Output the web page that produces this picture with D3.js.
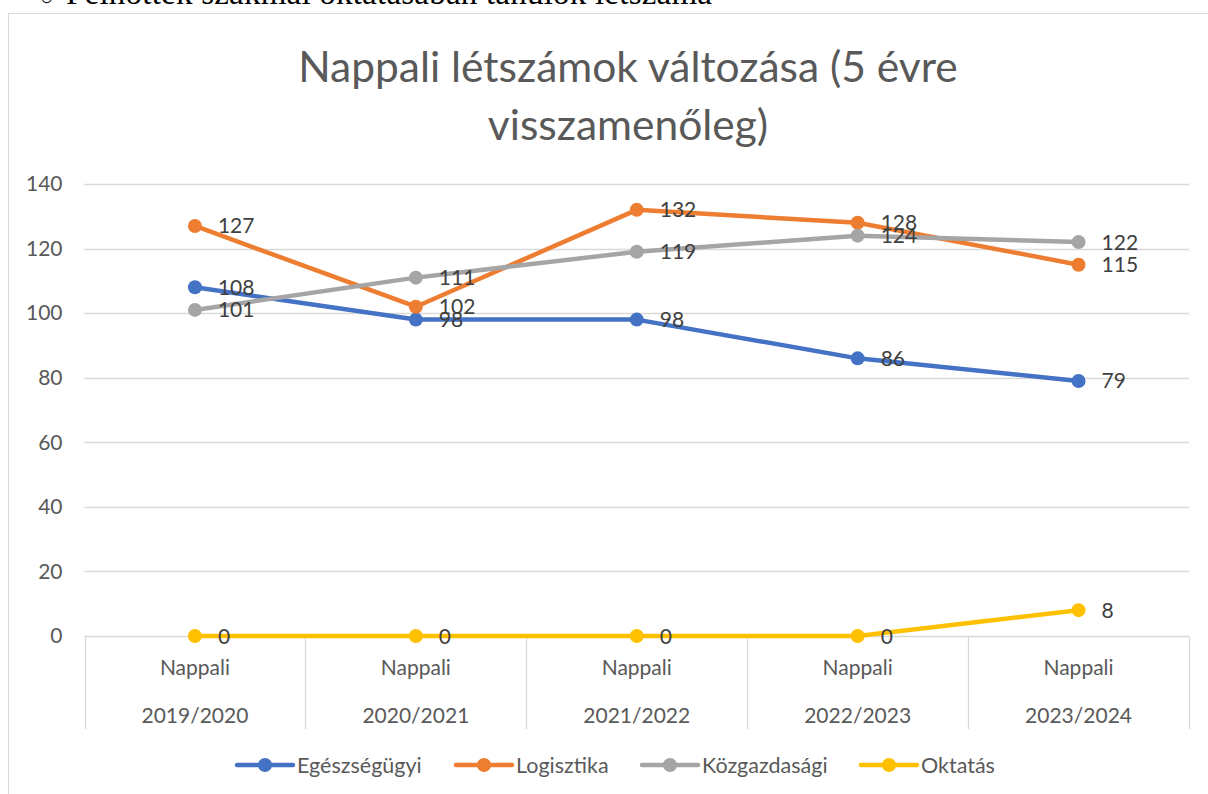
<!DOCTYPE html>
<html>
<head>
<meta charset="utf-8">
<script src="https://cdn.jsdelivr.net/npm/d3@7"></script>
<style>
  html, body { margin: 0; padding: 0; background: #fff; overflow: hidden; }
  svg { display: block; }
</style>
</head>
<body>
<div id="chart"></div>
<script>
// adatok
const years = ["2019/2020", "2020/2021", "2021/2022", "2022/2023", "2023/2024"];
const subLabel = "Nappali";
const seriesNames = ["Egészségügyi", "Logisztika", "Közgazdasági", "Oktatás"];
const egeszseg = [108, 98, 98, 86, 79];
const logisztika = [127, 102, 132, 128, 115];
const kozgazd = [101, 111, 119, 124, 122];
const oktatas = [0, 0, 0, 0, 8];
const yTicks = [0, 20, 40, 60, 80, 100, 120, 140];
const colors = ["#4472C4", "#ED7D31", "#A5A5A5", "#FFC000"];

const series = [egeszseg, logisztika, kozgazd, oktatas].map((v, i) => ({
  name: seriesNames[i], color: colors[i], values: v
}));

const W = 1208, H = 794;
const font = "Lato, 'Open Sans', sans-serif";
const svg = d3.select("#chart").append("svg")
  .attr("width", W).attr("height", H);

// levágott szöveg a lap tetején
svg.append("text")
  .attr("x", 40).attr("y", 5)
  .attr("font-family", "'Liberation Serif', serif")
  .attr("font-size", 22)
  .attr("fill", "#000")
  .text("○");
svg.append("text")
  .attr("x", 66).attr("y", 4)
  .attr("font-family", "'Liberation Serif', serif")
  .attr("font-size", 33)
  .attr("fill", "#000")
  .attr("textLength", 646)
  .text("Felnőttek szakmai oktatásában tanulók létszáma");

// diagram keret
svg.append("rect")
  .attr("x", 8.5).attr("y", 13.5)
  .attr("width", W + 20).attr("height", H)
  .attr("fill", "#fff").attr("stroke", "#d9d9d9").attr("stroke-width", 1);

// cím
const title = svg.append("text")
  .attr("text-anchor", "middle")
  .attr("font-family", font)
  .attr("font-size", 42.5)
  .attr("fill", "#595959");
title.append("tspan").attr("x", 628).attr("y", 82).text("Nappali létszámok változása (5 évre");
title.append("tspan").attr("x", 628).attr("y", 140).text("visszamenőleg)");

// skálák
const x = d3.scaleBand().domain(years).range([84.5, 1189]);
const y = d3.scaleLinear().domain([0, 140]).range([636, 184]);

// rácsvonalak
svg.append("g")
  .selectAll("line").data(yTicks.filter(d => d > 0)).join("line")
  .attr("x1", x.range()[0]).attr("x2", x.range()[1])
  .attr("y1", d => Math.round(y(d)) + 0.5).attr("y2", d => Math.round(y(d)) + 0.5)
  .attr("stroke", "#d9d9d9").attr("stroke-width", 1.3);

// y tengely
const yAxis = svg.append("g")
  .attr("transform", `translate(${x.range()[0]},0)`)
  .call(d3.axisLeft(y).tickValues(yTicks).tickSize(0).tickPadding(22));
yAxis.select(".domain").remove();
yAxis.selectAll("text")
  .attr("font-family", font).attr("font-size", 21).attr("fill", "#595959");

// x tengely: alapvonal és kategória elválasztók
const axisY = Math.round(y(0)) + 0.5;
svg.append("line")
  .attr("x1", x.range()[0]).attr("x2", x.range()[1])
  .attr("y1", axisY).attr("y2", axisY)
  .attr("stroke", "#d9d9d9").attr("stroke-width", 1.3);
const seps = years.map(d => x(d)).concat([x.range()[1]]);
svg.append("g").selectAll("line").data(seps).join("line")
  .attr("x1", d => Math.round(d) + 0.5).attr("x2", d => Math.round(d) + 0.5)
  .attr("y1", axisY).attr("y2", 729)
  .attr("stroke", "#d9d9d9").attr("stroke-width", 1.3);

const cat = svg.append("g")
  .attr("font-family", font).attr("font-size", 21).attr("fill", "#595959")
  .attr("text-anchor", "middle");
cat.selectAll(".sub").data(years).join("text")
  .attr("x", d => x(d) + x.bandwidth() / 2).attr("y", 675)
  .text(subLabel);
cat.selectAll(".yr").data(years).join("text")
  .attr("x", d => x(d) + x.bandwidth() / 2).attr("y", 723)
  .text(d => d);

// vonalak
const line = d3.line()
  .x((d, i) => x(years[i]) + x.bandwidth() / 2)
  .y(d => y(d));

const g = svg.append("g");
series.forEach(s => {
  g.append("path")
    .datum(s.values)
    .attr("fill", "none")
    .attr("stroke", s.color)
    .attr("stroke-width", 4.5)
    .attr("stroke-linejoin", "round")
    .attr("d", line);
});
series.forEach(s => {
  g.append("g").selectAll("circle").data(s.values).join("circle")
    .attr("cx", (d, i) => x(years[i]) + x.bandwidth() / 2)
    .attr("cy", d => y(d))
    .attr("r", 7)
    .attr("fill", s.color);
});
// adatcímkék
series.forEach(s => {
  g.append("g").selectAll("text").data(s.values).join("text")
    .attr("x", (d, i) => x(years[i]) + x.bandwidth() / 2 + 23)
    .attr("y", d => y(d) + 7.5)
    .attr("font-family", font).attr("font-size", 21).attr("fill", "#404040")
    .text(d => d);
});

// jelmagyarázat
const legendX = [237, 456, 642, 861];
const lg = svg.append("g").selectAll("g").data(series).join("g")
  .attr("transform", (d, i) => `translate(${legendX[i]},765)`);
lg.append("line")
  .attr("x1", 0).attr("x2", 56)
  .attr("stroke", d => d.color).attr("stroke-width", 4.5)
  .attr("stroke-linecap", "round");
lg.append("circle").attr("cx", 28).attr("r", 7).attr("fill", d => d.color);
lg.append("text")
  .attr("x", 60).attr("y", 7.5)
  .attr("font-family", font).attr("font-size", 21.5).attr("fill", "#595959")
  .text(d => d.name);
</script>
</body>
</html>
